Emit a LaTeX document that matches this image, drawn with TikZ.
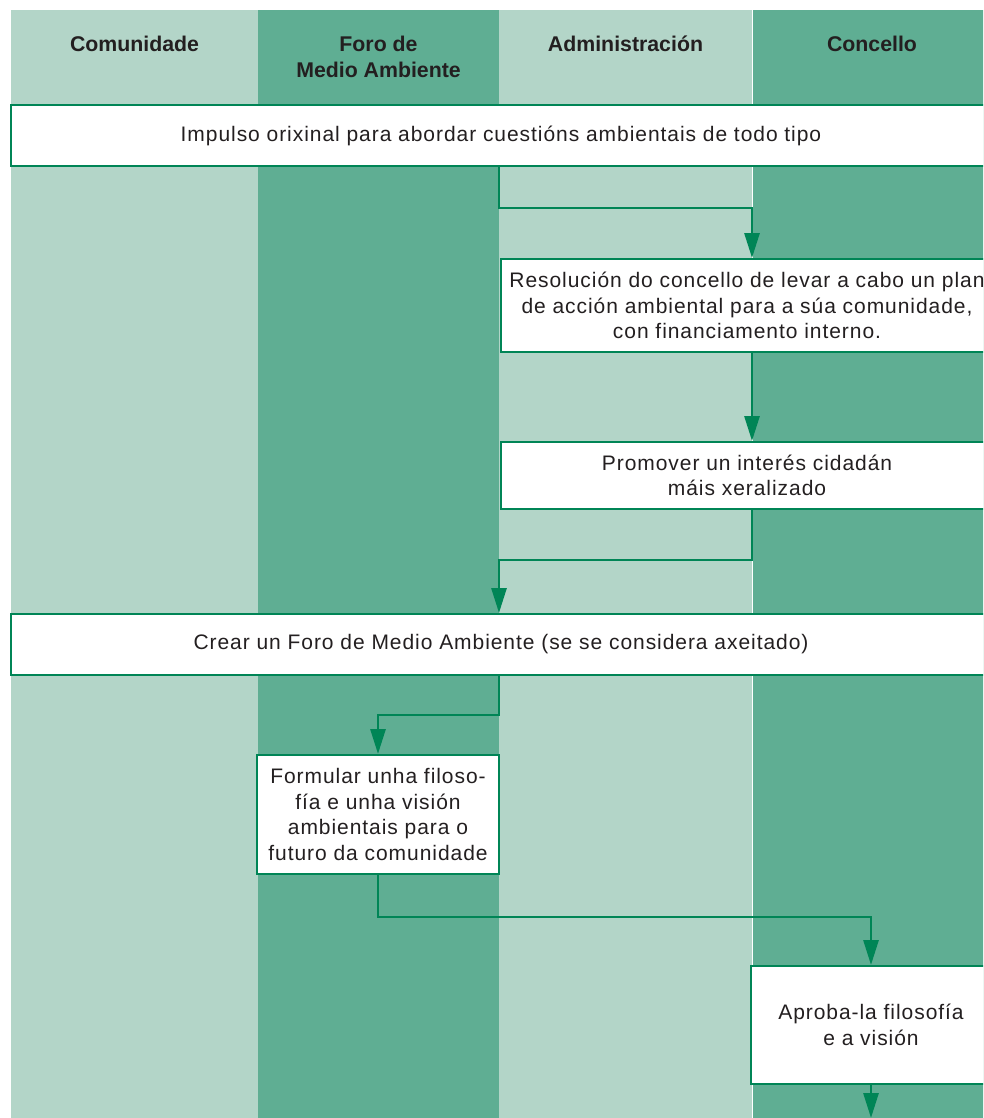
\documentclass[tikz,border=0pt]{standalone}
\usepackage{fontspec}
\setmainfont{Liberation Sans}
\newfontfamily\boxfont{Liberation Sans}[LetterSpace=4.5]
\usetikzlibrary{arrows.meta}
\definecolor{laneclaro}{HTML}{B3D5C8}
\definecolor{laneescuro}{HTML}{5FAE93}
\definecolor{verde}{HTML}{008556}
\definecolor{texto}{HTML}{231F20}

\begin{document}
\begin{tikzpicture}[x=1pt, y=-1pt,
		lane/.style={anchor=north west, minimum height=1108pt, inner sep=0pt, outer sep=0pt},
		head/.style={anchor=base, align=center, text=texto, font=\bfseries\fontsize{21.3}{25.7}\selectfont},
		box/.style={draw=verde, line width=2pt, fill=white, inner sep=0pt, align=center, text=texto,
			font=\boxfont\fontsize{21}{25.7}\selectfont},
		flow/.style={draw=verde, line width=2.8pt, -{Triangle[length=25pt,width=15pt]}}]
		
		\useasboundingbox (0,0) rectangle (983,1118);
		\clip (0,0) rectangle (983,1118);
		
		\node[lane, fill=laneclaro, minimum width=247pt] (lcom) at (11,10) {};
		\node[lane, fill=laneescuro, minimum width=241pt] (lforo) at (258,10) {};
		\node[lane, fill=laneclaro, minimum width=253pt] (ladm) at (499,10) {};
		\node[lane, fill=laneescuro, minimum width=240pt] (lcon) at (752,10) {};
		\draw[white, line width=1pt] (lcon.north west) -- (lcon.south west);
		
		\node[head] (hcom) at (lcom.north |- 0,52) {Comunidade};
		\node[head] (hforo) at (lforo.north |- 0,77.7) {Foro de\\Medio Ambiente};
		\node[head] (hadm) at (ladm.north |- 0,52) {Administración};
		\node[head] (hcon) at (lcon.north |- 0,52) {Concello};
		
		\node[box, minimum width=980pt, minimum height=61pt] (impulso) at (501,135.5)
			{Impulso orixinal para abordar cuestións ambientais de todo tipo};
		\node[box, minimum width=492pt, minimum height=93pt] (resol) at (747,305.5)
			{Resolución do concello de levar a cabo un plan\\de acción ambiental para a súa comunidade,\\con financiamento interno.};
		\node[box, minimum width=492pt, minimum height=67pt] (promover) at (747,475.5)
			{Promover un interés cidadán\\máis xeralizado};
		\node[box, minimum width=980pt, minimum height=61pt] (crear) at (501,644.5)
			{Crear un Foro de Medio Ambiente (se se considera axeitado)};
		\node[box, minimum width=242pt, minimum height=119pt] (formular) at (378,814.5)
			{Formular unha filoso-\\fía e unha visión\\ambientais para o\\futuro da comunidade};
		\node[box, minimum width=240pt, minimum height=118pt] (aproba) at (871,1025)
			{Aproba-la filosofía\\e a visión};
		\coordinate (fim) at (0,1118);
		
		\draw[flow] (impulso.south -| ladm.west) -- ++(0,41) -| (resol.north -| lcon.west);
		\draw[flow] (resol.south -| lcon.west) -- (promover.north -| lcon.west);
		\draw[flow] (promover.south -| lcon.west) -- ++(0,50) -| (crear.north -| ladm.west);
		\draw[flow] (crear.south -| ladm.west) -- ++(0,39) -| (formular.north);
		\draw[flow] (formular.south) -- ++(0,42) -| (aproba.north);
		\draw[flow] (aproba.south) -- (aproba.south |- fim);
		
	\end{tikzpicture}
\end{document}
